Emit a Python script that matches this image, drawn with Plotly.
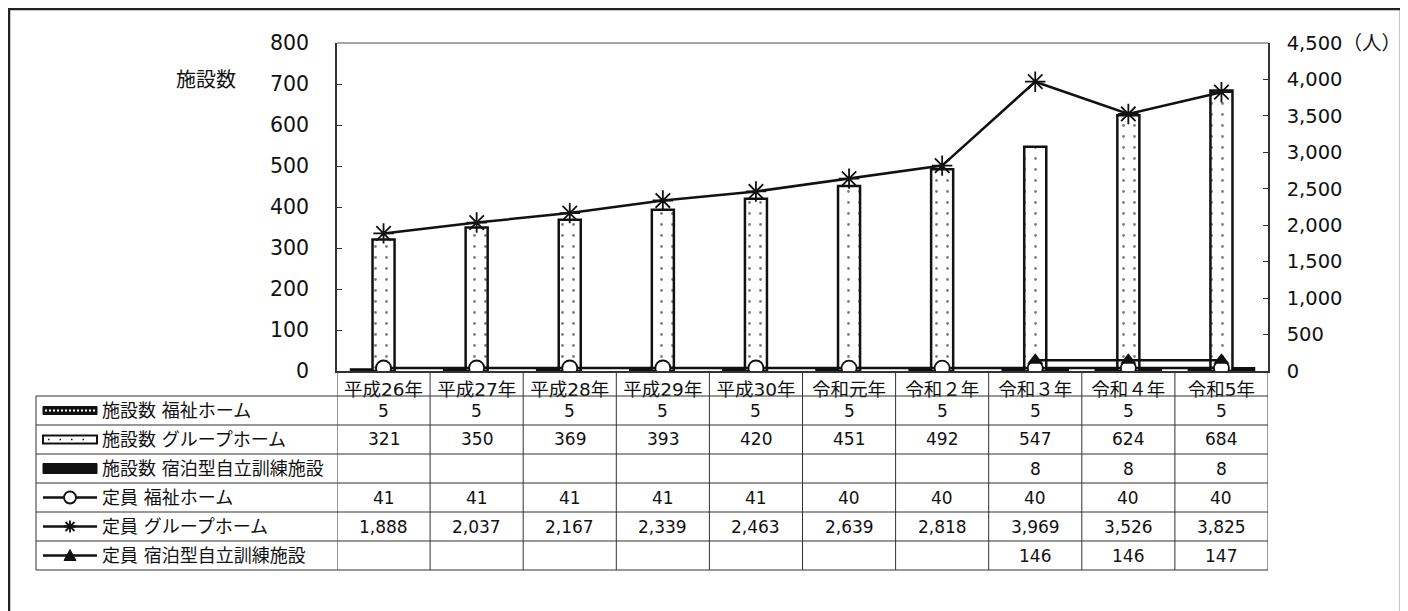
import plotly.graph_objects as go

# ---------------- data ----------------
categories = ["平成26年", "平成27年", "平成28年", "平成29年", "平成30年",
              "令和元年", "令和２年", "令和３年", "令和４年", "令和5年"]
fac_welfare = [5, 5, 5, 5, 5, 5, 5, 5, 5, 5]
fac_group = [321, 350, 369, 393, 420, 451, 492, 547, 624, 684]
fac_training = [None, None, None, None, None, None, None, 8, 8, 8]
cap_welfare = [41, 41, 41, 41, 41, 40, 40, 40, 40, 40]
cap_group = [1888, 2037, 2167, 2339, 2463, 2639, 2818, 3969, 3526, 3825]
cap_training = [None, None, None, None, None, None, None, 146, 146, 147]

row_labels = ["施設数 福祉ホーム", "施設数 グループホーム", "施設数 宿泊型自立訓練施設",
              "定員 福祉ホーム", "定員 グループホーム", "定員 宿泊型自立訓練施設"]
row_values = [fac_welfare, fac_group, fac_training, cap_welfare, cap_group, cap_training]

left_ticks = [0, 100, 200, 300, 400, 500, 600, 700, 800]
right_ticks = [0, 500, 1000, 1500, 2000, 2500, 3000, 3500, 4000, 4500]
right_ticktext = ["0", "500", "1,000", "1,500", "2,000", "2,500", "3,000", "3,500", "4,000", "4,500（人）"]

# ---------------- layout geometry (page pixels; the page body has an 8px margin) ----------------
OFF = 8
W, H = 1408, 611
PL, PR, PT, PB = 337, 1268, 43, 371
FONT = "DejaVu Sans, Noto Sans CJK JP"
LINE = "#333333"
INK = "#111111"


def px2x(px):
    return (px - PL) / (PR - PL)


def px2y(py):
    return (PB - py) / (PB - PT)


fig = go.Figure()

fig.add_trace(go.Bar(
    x=categories, y=fac_welfare, name="施設数 福祉ホーム",
    marker=dict(color=INK, line=dict(color=INK, width=1.5)),
))
fig.add_trace(go.Bar(
    x=categories, y=fac_group, name="施設数 グループホーム",
    marker=dict(color="white", line=dict(color=INK, width=2.5),
                pattern=dict(shape=".", fgcolor="#000000", bgcolor="white", size=11, solidity=0.05)),
))
fig.add_trace(go.Bar(
    x=categories, y=fac_training, name="施設数 宿泊型自立訓練施設",
    marker=dict(color=INK, line=dict(color=INK, width=1.5)),
))

fig.add_trace(go.Scatter(
    x=categories, y=cap_welfare, yaxis="y2", mode="lines+markers", name="定員 福祉ホーム",
    line=dict(color=INK, width=2.5),
    marker=dict(symbol="circle", size=15, color="white", line=dict(color=INK, width=1.8)),
))
fig.add_trace(go.Scatter(
    x=categories, y=cap_group, yaxis="y2", mode="lines+markers", name="定員 グループホーム",
    line=dict(color=INK, width=2.5),
    marker=dict(symbol="asterisk-open", size=17, color=INK, line=dict(color=INK, width=1.8)),
))
fig.add_trace(go.Scatter(
    x=categories, y=cap_training, yaxis="y2", mode="lines+markers", name="定員 宿泊型自立訓練施設",
    line=dict(color=INK, width=2.5),
    marker=dict(symbol="triangle-up", size=14, color=INK),
))

shapes = []
annotations = []

# outer frame
shapes.append(dict(type="rect", xref="paper", yref="paper",
                   x0=px2x(OFF + 1), x1=px2x(1401), y0=px2y(650), y1=px2y(OFF + 1),
                   line=dict(color="#222222", width=2.5), layer="below"))
# top border of plot
shapes.append(dict(type="line", xref="paper", yref="paper", x0=0, x1=1, y0=1, y1=1,
                   line=dict(color="#888888", width=1.5)))

# table geometry
TL = 36
HEAD_BOTTOM = 396
ROW_H = 29
n = len(categories)
row_tops = [HEAD_BOTTOM + i * ROW_H for i in range(len(row_labels) + 1)]
TB = row_tops[-1]

for yy in row_tops:
    shapes.append(dict(type="line", xref="paper", yref="paper",
                       x0=px2x(TL), x1=1, y0=px2y(yy), y1=px2y(yy),
                       line=dict(color=LINE, width=1)))
shapes.append(dict(type="line", xref="paper", yref="paper",
                   x0=px2x(TL), x1=px2x(TL), y0=px2y(HEAD_BOTTOM), y1=px2y(TB),
                   line=dict(color=LINE, width=1)))
for k in range(n + 1):
    shapes.append(dict(type="line", xref="x", yref="paper",
                       x0=k - 0.5, x1=k - 0.5, y0=0, y1=px2y(TB),
                       line=dict(color=LINE, width=1)))

# table values and row labels
for i, vals in enumerate(row_values):
    cy = px2y(row_tops[i] + ROW_H / 2)
    for j, v in enumerate(vals):
        if v is None:
            continue
        annotations.append(dict(x=categories[j], xref="x", y=cy, yref="paper",
                                text=f"{v:,}", showarrow=False, xanchor="center", yanchor="middle",
                                font=dict(family=FONT, size=17, color=INK)))
    annotations.append(dict(x=px2x(100), xref="paper", y=cy, yref="paper",
                            text=row_labels[i], showarrow=False, xanchor="left", yanchor="middle",
                            font=dict(family=FONT, size=18, color=INK)))

# legend keys
IX0, IX1, IXC = 43, 97, 70
cys = [row_tops[i] + ROW_H / 2 for i in range(6)]
c = cys[0]
shapes.append(dict(type="rect", xref="paper", yref="paper", x0=px2x(IX0), x1=px2x(IX1),
                   y0=px2y(c + 4), y1=px2y(c - 4), fillcolor=INK, line=dict(color=INK, width=1)))
shapes.append(dict(type="line", xref="paper", yref="paper", x0=px2x(IX0 + 2), x1=px2x(IX1 - 2),
                   y0=px2y(c), y1=px2y(c), line=dict(color="white", width=2, dash="2px,2px")))
c = cys[1]
shapes.append(dict(type="rect", xref="paper", yref="paper", x0=px2x(IX0), x1=px2x(IX1),
                   y0=px2y(c + 4), y1=px2y(c - 4), fillcolor="white", line=dict(color=INK, width=2)))
shapes.append(dict(type="line", xref="paper", yref="paper", x0=px2x(IX0 + 5), x1=px2x(IX1 - 3),
                   y0=px2y(c), y1=px2y(c), line=dict(color=INK, width=1.5, dash="1.5px,10px")))
c = cys[2]
shapes.append(dict(type="rect", xref="paper", yref="paper", x0=px2x(IX0), x1=px2x(IX1),
                   y0=px2y(c + 5), y1=px2y(c - 5), fillcolor=INK, line=dict(color=INK, width=1)))
for c in cys[3:]:
    shapes.append(dict(type="line", xref="paper", yref="paper", x0=px2x(IX0), x1=px2x(IX1),
                       y0=px2y(c), y1=px2y(c), line=dict(color=INK, width=2.5)))
c = cys[3]
shapes.append(dict(type="circle", xref="paper", yref="paper", x0=px2x(IXC - 6), x1=px2x(IXC + 6),
                   y0=px2y(c + 6), y1=px2y(c - 6), fillcolor="white", line=dict(color=INK, width=1.8)))
c = cys[4]
r = 6
path = (f"M {px2x(IXC - r)},{px2y(c)} L {px2x(IXC + r)},{px2y(c)} "
        f"M {px2x(IXC)},{px2y(c - r)} L {px2x(IXC)},{px2y(c + r)} "
        f"M {px2x(IXC - 4.5)},{px2y(c - 4.5)} L {px2x(IXC + 4.5)},{px2y(c + 4.5)} "
        f"M {px2x(IXC - 4.5)},{px2y(c + 4.5)} L {px2x(IXC + 4.5)},{px2y(c - 4.5)}")
shapes.append(dict(type="path", xref="paper", yref="paper", path=path, line=dict(color=INK, width=1.8)))
c = cys[5]
path = f"M {px2x(IXC - 6)},{px2y(c + 5)} L {px2x(IXC + 6)},{px2y(c + 5)} L {px2x(IXC)},{px2y(c - 6)} Z"
shapes.append(dict(type="path", xref="paper", yref="paper", path=path, fillcolor=INK,
                   line=dict(color=INK, width=1)))

# left axis caption
annotations.append(dict(x=px2x(206), xref="paper", y=px2y(80), yref="paper", text="施設数",
                        showarrow=False, xanchor="center", yanchor="middle",
                        font=dict(family=FONT, size=20, color=INK)))

fig.update_layout(
    width=W, height=H, autosize=False,
    margin=dict(l=PL - OFF, r=W - (PR - OFF), t=PT - OFF, b=H - (PB - OFF), pad=0),
    plot_bgcolor="white", paper_bgcolor="white",
    showlegend=False,
    barmode="group", bargap=0.29, bargroupgap=0,
    font=dict(family=FONT, color=INK),
    xaxis=dict(type="category", showline=True, linecolor=LINE, linewidth=1.5,
               ticks="", showgrid=False, tickfont=dict(family=FONT, size=18.5),
               ticklabelstandoff=1, range=[-0.5, n - 0.5]),
    yaxis=dict(range=[0, 800], tickvals=left_ticks, ticks="inside", ticklen=5, tickcolor=LINE,
               showline=True, linecolor=LINE, linewidth=1.5, showgrid=False, zeroline=False,
               tickfont=dict(family=FONT, size=20.5), ticklabelstandoff=22),
    yaxis2=dict(range=[0, 4500], tickvals=right_ticks, ticktext=right_ticktext, overlaying="y",
                side="right", ticks="inside", ticklen=5, tickcolor=LINE,
                showline=True, linecolor=LINE, linewidth=1.5, showgrid=False, zeroline=False,
                tickfont=dict(family=FONT, size=19.5), ticklabelstandoff=13),
    shapes=shapes,
    annotations=annotations,
)

fig.write_html("out.html")
